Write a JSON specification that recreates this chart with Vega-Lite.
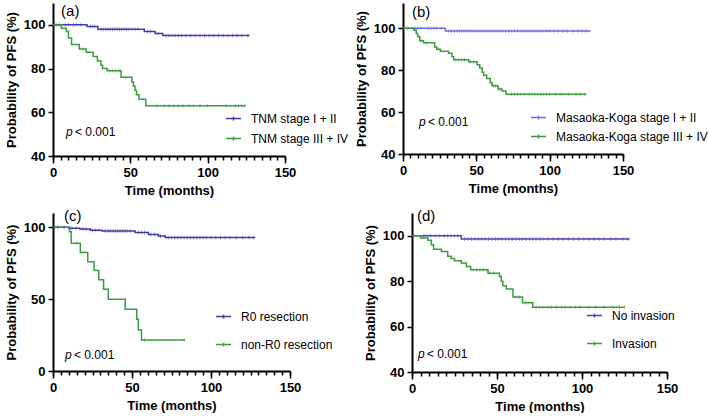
{
  "$schema": "https://vega.github.io/schema/vega-lite/v6.json",
  "padding": {"left": 5, "top": 3, "right": 0, "bottom": 0},
  "background": "white",
  "config": {
    "view": {"stroke": null},
    "font": "Liberation Sans",
    "axis": {
      "grid": false,
      "domainColor": "black",
      "domainWidth": 2,
      "tickColor": "black",
      "tickWidth": 1.5,
      "tickSize": 5,
      "labelFont": "Liberation Sans",
      "labelFontSize": 13,
      "labelFontWeight": "bold",
      "labelColor": "black",
      "titleFont": "Liberation Sans",
      "titleFontSize": 13,
      "titleFontWeight": "bold",
      "titleColor": "black"
    },
    "axisX": {"labelPadding": 3, "titlePadding": 5, "labelFlush": false},
    "axisY": {"labelPadding": 3, "titlePadding": 5},
    "legend": {
      "labelFont": "Liberation Sans",
      "labelFontSize": 12,
      "labelColor": "black",
      "symbolType": "M-1,0H1M0,-0.25V0.25",
      "symbolSize": 225,
      "symbolStrokeWidth": 1.5,
      "labelOffset": 9,
      "orient": "none"
    },
    "text": {"font": "Liberation Sans", "color": "black"}
  },
  "datasets": {
    "curves": [
      {"p":"a","s":"TNM stage I + II","t":0,"v":100},{"p":"a","s":"TNM stage I + II","t":22,"v":99.3},{"p":"a","s":"TNM stage I + II","t":29,"v":98},{"p":"a","s":"TNM stage I + II","t":59,"v":97},{"p":"a","s":"TNM stage I + II","t":66,"v":96.1},{"p":"a","s":"TNM stage I + II","t":71,"v":95.1},{"p":"a","s":"TNM stage I + II","t":127,"v":95.1},
      {"p":"a","s":"TNM stage III + IV","t":0,"v":100},{"p":"a","s":"TNM stage III + IV","t":5.4,"v":98.5},{"p":"a","s":"TNM stage III + IV","t":8.6,"v":97},{"p":"a","s":"TNM stage III + IV","t":10,"v":94},{"p":"a","s":"TNM stage III + IV","t":12,"v":91},{"p":"a","s":"TNM stage III + IV","t":17,"v":89},{"p":"a","s":"TNM stage III + IV","t":21.5,"v":87.5},{"p":"a","s":"TNM stage III + IV","t":26,"v":85.5},{"p":"a","s":"TNM stage III + IV","t":28.7,"v":83.5},{"p":"a","s":"TNM stage III + IV","t":31,"v":81.5},{"p":"a","s":"TNM stage III + IV","t":32,"v":80},{"p":"a","s":"TNM stage III + IV","t":35,"v":79},{"p":"a","s":"TNM stage III + IV","t":44,"v":76},{"p":"a","s":"TNM stage III + IV","t":51,"v":74},{"p":"a","s":"TNM stage III + IV","t":52,"v":72},{"p":"a","s":"TNM stage III + IV","t":53,"v":70},{"p":"a","s":"TNM stage III + IV","t":54,"v":68},{"p":"a","s":"TNM stage III + IV","t":55.6,"v":66},{"p":"a","s":"TNM stage III + IV","t":60,"v":63},{"p":"a","s":"TNM stage III + IV","t":124.6,"v":63},
      {"p":"b","s":"Masaoka-Koga stage I + II","t":0,"v":100},{"p":"b","s":"Masaoka-Koga stage I + II","t":28.9,"v":98.7},{"p":"b","s":"Masaoka-Koga stage I + II","t":127.7,"v":98.7},
      {"p":"b","s":"Masaoka-Koga stage III + IV","t":0,"v":100},{"p":"b","s":"Masaoka-Koga stage III + IV","t":7.3,"v":99},{"p":"b","s":"Masaoka-Koga stage III + IV","t":9,"v":97.5},{"p":"b","s":"Masaoka-Koga stage III + IV","t":10,"v":96},{"p":"b","s":"Masaoka-Koga stage III + IV","t":11.4,"v":94},{"p":"b","s":"Masaoka-Koga stage III + IV","t":14,"v":93},{"p":"b","s":"Masaoka-Koga stage III + IV","t":21.6,"v":91},{"p":"b","s":"Masaoka-Koga stage III + IV","t":23,"v":90},{"p":"b","s":"Masaoka-Koga stage III + IV","t":25.5,"v":89},{"p":"b","s":"Masaoka-Koga stage III + IV","t":31,"v":88},{"p":"b","s":"Masaoka-Koga stage III + IV","t":33.4,"v":86.5},{"p":"b","s":"Masaoka-Koga stage III + IV","t":34.5,"v":85},{"p":"b","s":"Masaoka-Koga stage III + IV","t":44.8,"v":84},{"p":"b","s":"Masaoka-Koga stage III + IV","t":50.5,"v":82.5},{"p":"b","s":"Masaoka-Koga stage III + IV","t":52.3,"v":81},{"p":"b","s":"Masaoka-Koga stage III + IV","t":54,"v":79},{"p":"b","s":"Masaoka-Koga stage III + IV","t":55,"v":77.5},{"p":"b","s":"Masaoka-Koga stage III + IV","t":57,"v":76},{"p":"b","s":"Masaoka-Koga stage III + IV","t":59.5,"v":74},{"p":"b","s":"Masaoka-Koga stage III + IV","t":60.7,"v":72.5},{"p":"b","s":"Masaoka-Koga stage III + IV","t":64.8,"v":71},{"p":"b","s":"Masaoka-Koga stage III + IV","t":67.5,"v":70},{"p":"b","s":"Masaoka-Koga stage III + IV","t":70.2,"v":68.5},{"p":"b","s":"Masaoka-Koga stage III + IV","t":125,"v":68.5},
      {"p":"c","s":"R0 resection","t":0,"v":100},{"p":"c","s":"R0 resection","t":10,"v":99.3},{"p":"c","s":"R0 resection","t":17,"v":98.8},{"p":"c","s":"R0 resection","t":23.6,"v":98},{"p":"c","s":"R0 resection","t":31,"v":97.4},{"p":"c","s":"R0 resection","t":52,"v":96.5},{"p":"c","s":"R0 resection","t":60.4,"v":95},{"p":"c","s":"R0 resection","t":66.7,"v":94},{"p":"c","s":"R0 resection","t":71,"v":93},{"p":"c","s":"R0 resection","t":128,"v":93},
      {"p":"c","s":"non-R0 resection","t":0,"v":100},{"p":"c","s":"non-R0 resection","t":10.5,"v":97},{"p":"c","s":"non-R0 resection","t":11.5,"v":89},{"p":"c","s":"non-R0 resection","t":17.3,"v":82.5},{"p":"c","s":"non-R0 resection","t":22,"v":76},{"p":"c","s":"non-R0 resection","t":26,"v":70},{"p":"c","s":"non-R0 resection","t":29,"v":63.5},{"p":"c","s":"non-R0 resection","t":32,"v":57},{"p":"c","s":"non-R0 resection","t":35,"v":50},{"p":"c","s":"non-R0 resection","t":45.7,"v":43},{"p":"c","s":"non-R0 resection","t":53,"v":36},{"p":"c","s":"non-R0 resection","t":54,"v":28.5},{"p":"c","s":"non-R0 resection","t":56,"v":21.5},{"p":"c","s":"non-R0 resection","t":83.6,"v":21.5},
      {"p":"d","s":"No invasion","t":0,"v":100},{"p":"d","s":"No invasion","t":29,"v":98.5},{"p":"d","s":"No invasion","t":128,"v":98.5},
      {"p":"d","s":"Invasion","t":0,"v":100},{"p":"d","s":"Invasion","t":5.1,"v":99},{"p":"d","s":"Invasion","t":9.4,"v":98},{"p":"d","s":"Invasion","t":11.4,"v":96},{"p":"d","s":"Invasion","t":12.7,"v":94},{"p":"d","s":"Invasion","t":17.3,"v":93},{"p":"d","s":"Invasion","t":21,"v":91},{"p":"d","s":"Invasion","t":23,"v":90},{"p":"d","s":"Invasion","t":25,"v":89},{"p":"d","s":"Invasion","t":29,"v":88},{"p":"d","s":"Invasion","t":32,"v":86.5},{"p":"d","s":"Invasion","t":34.5,"v":85},{"p":"d","s":"Invasion","t":44.7,"v":83.5},{"p":"d","s":"Invasion","t":51.5,"v":82},{"p":"d","s":"Invasion","t":52.5,"v":80},{"p":"d","s":"Invasion","t":53.5,"v":78},{"p":"d","s":"Invasion","t":55.5,"v":76.5},{"p":"d","s":"Invasion","t":59.4,"v":73},{"p":"d","s":"Invasion","t":65,"v":70.5},{"p":"d","s":"Invasion","t":71,"v":68.5},{"p":"d","s":"Invasion","t":125,"v":68.5}
    ],
    "censor": [
      {"p":"a","s":"TNM stage I + II","t":2,"v":100},{"p":"a","s":"TNM stage I + II","t":4,"v":100},{"p":"a","s":"TNM stage I + II","t":8,"v":100},{"p":"a","s":"TNM stage I + II","t":10,"v":100},{"p":"a","s":"TNM stage I + II","t":13,"v":100},{"p":"a","s":"TNM stage I + II","t":15,"v":100},{"p":"a","s":"TNM stage I + II","t":18,"v":100},
      {"p":"a","s":"TNM stage I + II","t":24,"v":99.3},{"p":"a","s":"TNM stage I + II","t":25.5,"v":99.3},{"p":"a","s":"TNM stage I + II","t":27,"v":99.3},
      {"p":"a","s":"TNM stage I + II","t":31,"v":98},{"p":"a","s":"TNM stage I + II","t":32.5,"v":98},{"p":"a","s":"TNM stage I + II","t":34,"v":98},{"p":"a","s":"TNM stage I + II","t":35.5,"v":98},{"p":"a","s":"TNM stage I + II","t":37,"v":98},{"p":"a","s":"TNM stage I + II","t":38.5,"v":98},{"p":"a","s":"TNM stage I + II","t":40,"v":98},{"p":"a","s":"TNM stage I + II","t":41.5,"v":98},{"p":"a","s":"TNM stage I + II","t":43,"v":98},{"p":"a","s":"TNM stage I + II","t":44.5,"v":98},{"p":"a","s":"TNM stage I + II","t":46,"v":98},{"p":"a","s":"TNM stage I + II","t":47.5,"v":98},{"p":"a","s":"TNM stage I + II","t":49,"v":98},{"p":"a","s":"TNM stage I + II","t":51,"v":98},{"p":"a","s":"TNM stage I + II","t":53,"v":98},{"p":"a","s":"TNM stage I + II","t":55,"v":98},
      {"p":"a","s":"TNM stage I + II","t":61,"v":97},{"p":"a","s":"TNM stage I + II","t":63,"v":97},{"p":"a","s":"TNM stage I + II","t":68,"v":96.1},
      {"p":"a","s":"TNM stage I + II","t":73,"v":95.1},{"p":"a","s":"TNM stage I + II","t":75,"v":95.1},{"p":"a","s":"TNM stage I + II","t":77,"v":95.1},{"p":"a","s":"TNM stage I + II","t":79,"v":95.1},{"p":"a","s":"TNM stage I + II","t":81,"v":95.1},{"p":"a","s":"TNM stage I + II","t":83,"v":95.1},{"p":"a","s":"TNM stage I + II","t":86,"v":95.1},{"p":"a","s":"TNM stage I + II","t":89,"v":95.1},{"p":"a","s":"TNM stage I + II","t":92,"v":95.1},{"p":"a","s":"TNM stage I + II","t":95,"v":95.1},{"p":"a","s":"TNM stage I + II","t":98,"v":95.1},{"p":"a","s":"TNM stage I + II","t":101,"v":95.1},{"p":"a","s":"TNM stage I + II","t":104,"v":95.1},{"p":"a","s":"TNM stage I + II","t":107,"v":95.1},{"p":"a","s":"TNM stage I + II","t":110,"v":95.1},{"p":"a","s":"TNM stage I + II","t":113,"v":95.1},{"p":"a","s":"TNM stage I + II","t":116,"v":95.1},{"p":"a","s":"TNM stage I + II","t":119,"v":95.1},{"p":"a","s":"TNM stage I + II","t":122,"v":95.1},{"p":"a","s":"TNM stage I + II","t":126,"v":95.1},
      {"p":"a","s":"TNM stage III + IV","t":19,"v":89},{"p":"a","s":"TNM stage III + IV","t":36.5,"v":79},{"p":"a","s":"TNM stage III + IV","t":38.5,"v":79},{"p":"a","s":"TNM stage III + IV","t":40.5,"v":79},{"p":"a","s":"TNM stage III + IV","t":42.5,"v":79},{"p":"a","s":"TNM stage III + IV","t":47,"v":76},
      {"p":"a","s":"TNM stage III + IV","t":67,"v":63},{"p":"a","s":"TNM stage III + IV","t":72,"v":63},{"p":"a","s":"TNM stage III + IV","t":75,"v":63},{"p":"a","s":"TNM stage III + IV","t":78,"v":63},{"p":"a","s":"TNM stage III + IV","t":81,"v":63},{"p":"a","s":"TNM stage III + IV","t":84,"v":63},{"p":"a","s":"TNM stage III + IV","t":88,"v":63},{"p":"a","s":"TNM stage III + IV","t":91,"v":63},{"p":"a","s":"TNM stage III + IV","t":95,"v":63},{"p":"a","s":"TNM stage III + IV","t":100,"v":63},{"p":"a","s":"TNM stage III + IV","t":112,"v":63},{"p":"a","s":"TNM stage III + IV","t":118,"v":63},{"p":"a","s":"TNM stage III + IV","t":120,"v":63},{"p":"a","s":"TNM stage III + IV","t":122,"v":63},{"p":"a","s":"TNM stage III + IV","t":124,"v":63},
      {"p":"b","s":"Masaoka-Koga stage I + II","t":3,"v":100},{"p":"b","s":"Masaoka-Koga stage I + II","t":8,"v":100},{"p":"b","s":"Masaoka-Koga stage I + II","t":10,"v":100},{"p":"b","s":"Masaoka-Koga stage I + II","t":12,"v":100},{"p":"b","s":"Masaoka-Koga stage I + II","t":17,"v":100},{"p":"b","s":"Masaoka-Koga stage I + II","t":19,"v":100},{"p":"b","s":"Masaoka-Koga stage I + II","t":21,"v":100},{"p":"b","s":"Masaoka-Koga stage I + II","t":23,"v":100},{"p":"b","s":"Masaoka-Koga stage I + II","t":26,"v":100},
      {"p":"b","s":"Masaoka-Koga stage I + II","t":31,"v":98.7},{"p":"b","s":"Masaoka-Koga stage I + II","t":33,"v":98.7},{"p":"b","s":"Masaoka-Koga stage I + II","t":35,"v":98.7},{"p":"b","s":"Masaoka-Koga stage I + II","t":37,"v":98.7},{"p":"b","s":"Masaoka-Koga stage I + II","t":38.5,"v":98.7},{"p":"b","s":"Masaoka-Koga stage I + II","t":40,"v":98.7},{"p":"b","s":"Masaoka-Koga stage I + II","t":41.5,"v":98.7},{"p":"b","s":"Masaoka-Koga stage I + II","t":43,"v":98.7},{"p":"b","s":"Masaoka-Koga stage I + II","t":44.5,"v":98.7},{"p":"b","s":"Masaoka-Koga stage I + II","t":46,"v":98.7},{"p":"b","s":"Masaoka-Koga stage I + II","t":48,"v":98.7},{"p":"b","s":"Masaoka-Koga stage I + II","t":50,"v":98.7},{"p":"b","s":"Masaoka-Koga stage I + II","t":52,"v":98.7},{"p":"b","s":"Masaoka-Koga stage I + II","t":54,"v":98.7},{"p":"b","s":"Masaoka-Koga stage I + II","t":56,"v":98.7},{"p":"b","s":"Masaoka-Koga stage I + II","t":58,"v":98.7},{"p":"b","s":"Masaoka-Koga stage I + II","t":60,"v":98.7},{"p":"b","s":"Masaoka-Koga stage I + II","t":62,"v":98.7},{"p":"b","s":"Masaoka-Koga stage I + II","t":64,"v":98.7},{"p":"b","s":"Masaoka-Koga stage I + II","t":66,"v":98.7},{"p":"b","s":"Masaoka-Koga stage I + II","t":68,"v":98.7},{"p":"b","s":"Masaoka-Koga stage I + II","t":70,"v":98.7},{"p":"b","s":"Masaoka-Koga stage I + II","t":72,"v":98.7},{"p":"b","s":"Masaoka-Koga stage I + II","t":74,"v":98.7},{"p":"b","s":"Masaoka-Koga stage I + II","t":76,"v":98.7},{"p":"b","s":"Masaoka-Koga stage I + II","t":78,"v":98.7},{"p":"b","s":"Masaoka-Koga stage I + II","t":80,"v":98.7},{"p":"b","s":"Masaoka-Koga stage I + II","t":82,"v":98.7},{"p":"b","s":"Masaoka-Koga stage I + II","t":84,"v":98.7},{"p":"b","s":"Masaoka-Koga stage I + II","t":86,"v":98.7},{"p":"b","s":"Masaoka-Koga stage I + II","t":88,"v":98.7},{"p":"b","s":"Masaoka-Koga stage I + II","t":90,"v":98.7},{"p":"b","s":"Masaoka-Koga stage I + II","t":92,"v":98.7},{"p":"b","s":"Masaoka-Koga stage I + II","t":94,"v":98.7},{"p":"b","s":"Masaoka-Koga stage I + II","t":96,"v":98.7},{"p":"b","s":"Masaoka-Koga stage I + II","t":98,"v":98.7},{"p":"b","s":"Masaoka-Koga stage I + II","t":100,"v":98.7},{"p":"b","s":"Masaoka-Koga stage I + II","t":103,"v":98.7},{"p":"b","s":"Masaoka-Koga stage I + II","t":106,"v":98.7},{"p":"b","s":"Masaoka-Koga stage I + II","t":109,"v":98.7},{"p":"b","s":"Masaoka-Koga stage I + II","t":112,"v":98.7},{"p":"b","s":"Masaoka-Koga stage I + II","t":116,"v":98.7},{"p":"b","s":"Masaoka-Koga stage I + II","t":119,"v":98.7},{"p":"b","s":"Masaoka-Koga stage I + II","t":122,"v":98.7},{"p":"b","s":"Masaoka-Koga stage I + II","t":125,"v":98.7},
      {"p":"b","s":"Masaoka-Koga stage III + IV","t":12.5,"v":94},{"p":"b","s":"Masaoka-Koga stage III + IV","t":16,"v":93},{"p":"b","s":"Masaoka-Koga stage III + IV","t":24,"v":90},{"p":"b","s":"Masaoka-Koga stage III + IV","t":36,"v":85},{"p":"b","s":"Masaoka-Koga stage III + IV","t":38,"v":85},{"p":"b","s":"Masaoka-Koga stage III + IV","t":40,"v":85},{"p":"b","s":"Masaoka-Koga stage III + IV","t":42,"v":85},{"p":"b","s":"Masaoka-Koga stage III + IV","t":46,"v":84},{"p":"b","s":"Masaoka-Koga stage III + IV","t":48,"v":84},{"p":"b","s":"Masaoka-Koga stage III + IV","t":61.5,"v":72.5},{"p":"b","s":"Masaoka-Koga stage III + IV","t":63,"v":72.5},{"p":"b","s":"Masaoka-Koga stage III + IV","t":66,"v":71},
      {"p":"b","s":"Masaoka-Koga stage III + IV","t":74,"v":68.5},{"p":"b","s":"Masaoka-Koga stage III + IV","t":76,"v":68.5},{"p":"b","s":"Masaoka-Koga stage III + IV","t":78,"v":68.5},{"p":"b","s":"Masaoka-Koga stage III + IV","t":80,"v":68.5},{"p":"b","s":"Masaoka-Koga stage III + IV","t":83,"v":68.5},{"p":"b","s":"Masaoka-Koga stage III + IV","t":86,"v":68.5},{"p":"b","s":"Masaoka-Koga stage III + IV","t":88,"v":68.5},{"p":"b","s":"Masaoka-Koga stage III + IV","t":90,"v":68.5},{"p":"b","s":"Masaoka-Koga stage III + IV","t":92,"v":68.5},{"p":"b","s":"Masaoka-Koga stage III + IV","t":94,"v":68.5},{"p":"b","s":"Masaoka-Koga stage III + IV","t":96,"v":68.5},{"p":"b","s":"Masaoka-Koga stage III + IV","t":98,"v":68.5},{"p":"b","s":"Masaoka-Koga stage III + IV","t":100,"v":68.5},{"p":"b","s":"Masaoka-Koga stage III + IV","t":104,"v":68.5},{"p":"b","s":"Masaoka-Koga stage III + IV","t":108,"v":68.5},{"p":"b","s":"Masaoka-Koga stage III + IV","t":113,"v":68.5},{"p":"b","s":"Masaoka-Koga stage III + IV","t":118,"v":68.5},{"p":"b","s":"Masaoka-Koga stage III + IV","t":121,"v":68.5},{"p":"b","s":"Masaoka-Koga stage III + IV","t":124,"v":68.5},
      {"p":"c","s":"R0 resection","t":1,"v":100},{"p":"c","s":"R0 resection","t":3,"v":100},{"p":"c","s":"R0 resection","t":7,"v":100},{"p":"c","s":"R0 resection","t":12,"v":99.3},{"p":"c","s":"R0 resection","t":14.5,"v":99.3},{"p":"c","s":"R0 resection","t":19,"v":98.8},{"p":"c","s":"R0 resection","t":21,"v":98.8},{"p":"c","s":"R0 resection","t":25,"v":98},{"p":"c","s":"R0 resection","t":27,"v":98},{"p":"c","s":"R0 resection","t":29,"v":98},
      {"p":"c","s":"R0 resection","t":33,"v":97.4},{"p":"c","s":"R0 resection","t":35,"v":97.4},{"p":"c","s":"R0 resection","t":36.5,"v":97.4},{"p":"c","s":"R0 resection","t":38,"v":97.4},{"p":"c","s":"R0 resection","t":39.5,"v":97.4},{"p":"c","s":"R0 resection","t":41,"v":97.4},{"p":"c","s":"R0 resection","t":42.5,"v":97.4},{"p":"c","s":"R0 resection","t":44,"v":97.4},{"p":"c","s":"R0 resection","t":45.5,"v":97.4},{"p":"c","s":"R0 resection","t":47,"v":97.4},{"p":"c","s":"R0 resection","t":49,"v":97.4},
      {"p":"c","s":"R0 resection","t":54,"v":96.5},{"p":"c","s":"R0 resection","t":56,"v":96.5},{"p":"c","s":"R0 resection","t":58,"v":96.5},{"p":"c","s":"R0 resection","t":62,"v":95},{"p":"c","s":"R0 resection","t":64.5,"v":95},{"p":"c","s":"R0 resection","t":68,"v":94},
      {"p":"c","s":"R0 resection","t":73,"v":93},{"p":"c","s":"R0 resection","t":75,"v":93},{"p":"c","s":"R0 resection","t":77,"v":93},{"p":"c","s":"R0 resection","t":79,"v":93},{"p":"c","s":"R0 resection","t":81,"v":93},{"p":"c","s":"R0 resection","t":83,"v":93},{"p":"c","s":"R0 resection","t":85,"v":93},{"p":"c","s":"R0 resection","t":87,"v":93},{"p":"c","s":"R0 resection","t":89,"v":93},{"p":"c","s":"R0 resection","t":91,"v":93},{"p":"c","s":"R0 resection","t":93,"v":93},{"p":"c","s":"R0 resection","t":95,"v":93},{"p":"c","s":"R0 resection","t":97,"v":93},{"p":"c","s":"R0 resection","t":100,"v":93},{"p":"c","s":"R0 resection","t":103,"v":93},{"p":"c","s":"R0 resection","t":106,"v":93},{"p":"c","s":"R0 resection","t":109,"v":93},{"p":"c","s":"R0 resection","t":112,"v":93},{"p":"c","s":"R0 resection","t":116,"v":93},{"p":"c","s":"R0 resection","t":120,"v":93},{"p":"c","s":"R0 resection","t":124,"v":93},{"p":"c","s":"R0 resection","t":127,"v":93},
      {"p":"c","s":"non-R0 resection","t":15,"v":89},{"p":"c","s":"non-R0 resection","t":58,"v":21.5},{"p":"c","s":"non-R0 resection","t":83,"v":21.5},
      {"p":"d","s":"No invasion","t":1,"v":100},{"p":"d","s":"No invasion","t":7,"v":100},{"p":"d","s":"No invasion","t":9,"v":100},{"p":"d","s":"No invasion","t":11,"v":100},{"p":"d","s":"No invasion","t":14,"v":100},{"p":"d","s":"No invasion","t":16,"v":100},{"p":"d","s":"No invasion","t":19,"v":100},{"p":"d","s":"No invasion","t":21,"v":100},{"p":"d","s":"No invasion","t":23,"v":100},{"p":"d","s":"No invasion","t":25,"v":100},{"p":"d","s":"No invasion","t":27,"v":100},
      {"p":"d","s":"No invasion","t":31,"v":98.5},{"p":"d","s":"No invasion","t":33,"v":98.5},{"p":"d","s":"No invasion","t":35,"v":98.5},{"p":"d","s":"No invasion","t":37,"v":98.5},{"p":"d","s":"No invasion","t":39,"v":98.5},{"p":"d","s":"No invasion","t":41,"v":98.5},{"p":"d","s":"No invasion","t":43,"v":98.5},{"p":"d","s":"No invasion","t":45,"v":98.5},{"p":"d","s":"No invasion","t":47,"v":98.5},{"p":"d","s":"No invasion","t":49,"v":98.5},{"p":"d","s":"No invasion","t":51,"v":98.5},{"p":"d","s":"No invasion","t":53,"v":98.5},{"p":"d","s":"No invasion","t":55,"v":98.5},{"p":"d","s":"No invasion","t":57,"v":98.5},{"p":"d","s":"No invasion","t":59,"v":98.5},{"p":"d","s":"No invasion","t":61,"v":98.5},{"p":"d","s":"No invasion","t":63,"v":98.5},{"p":"d","s":"No invasion","t":65,"v":98.5},{"p":"d","s":"No invasion","t":67,"v":98.5},{"p":"d","s":"No invasion","t":69,"v":98.5},{"p":"d","s":"No invasion","t":71,"v":98.5},{"p":"d","s":"No invasion","t":73,"v":98.5},{"p":"d","s":"No invasion","t":75,"v":98.5},{"p":"d","s":"No invasion","t":77,"v":98.5},{"p":"d","s":"No invasion","t":80,"v":98.5},{"p":"d","s":"No invasion","t":83,"v":98.5},{"p":"d","s":"No invasion","t":86,"v":98.5},{"p":"d","s":"No invasion","t":89,"v":98.5},{"p":"d","s":"No invasion","t":92,"v":98.5},{"p":"d","s":"No invasion","t":95,"v":98.5},{"p":"d","s":"No invasion","t":98,"v":98.5},{"p":"d","s":"No invasion","t":101,"v":98.5},{"p":"d","s":"No invasion","t":104,"v":98.5},{"p":"d","s":"No invasion","t":107,"v":98.5},{"p":"d","s":"No invasion","t":110,"v":98.5},{"p":"d","s":"No invasion","t":113,"v":98.5},{"p":"d","s":"No invasion","t":117,"v":98.5},{"p":"d","s":"No invasion","t":120,"v":98.5},{"p":"d","s":"No invasion","t":124,"v":98.5},{"p":"d","s":"No invasion","t":127,"v":98.5},
      {"p":"d","s":"Invasion","t":36,"v":85},{"p":"d","s":"Invasion","t":38,"v":85},{"p":"d","s":"Invasion","t":40,"v":85},{"p":"d","s":"Invasion","t":42,"v":85},{"p":"d","s":"Invasion","t":44,"v":85},{"p":"d","s":"Invasion","t":46,"v":83.5},{"p":"d","s":"Invasion","t":48,"v":83.5},{"p":"d","s":"Invasion","t":61,"v":73},{"p":"d","s":"Invasion","t":63,"v":73},{"p":"d","s":"Invasion","t":67,"v":70.5},
      {"p":"d","s":"Invasion","t":73,"v":68.5},{"p":"d","s":"Invasion","t":75,"v":68.5},{"p":"d","s":"Invasion","t":77,"v":68.5},{"p":"d","s":"Invasion","t":80,"v":68.5},{"p":"d","s":"Invasion","t":82,"v":68.5},{"p":"d","s":"Invasion","t":85,"v":68.5},{"p":"d","s":"Invasion","t":88,"v":68.5},{"p":"d","s":"Invasion","t":90,"v":68.5},{"p":"d","s":"Invasion","t":93,"v":68.5},{"p":"d","s":"Invasion","t":96,"v":68.5},{"p":"d","s":"Invasion","t":99,"v":68.5},{"p":"d","s":"Invasion","t":104,"v":68.5},{"p":"d","s":"Invasion","t":108,"v":68.5},{"p":"d","s":"Invasion","t":113,"v":68.5},{"p":"d","s":"Invasion","t":118,"v":68.5},{"p":"d","s":"Invasion","t":122,"v":68.5},{"p":"d","s":"Invasion","t":125,"v":68.5}
    ]
  },
  "resolve": {"scale": {"color": "independent"}, "legend": {"color": "independent"}},
  "spacing": 11,
  "vconcat": [
    {
      "resolve": {"scale": {"color": "independent"}, "legend": {"color": "independent"}},
      "spacing": 6,
      "hconcat": [
        {
          "width": 232, "height": 153,
          "resolve": {"axis": {"x": "independent"}},
          "layer": [
            {
              "data": {"name": "curves"},
              "transform": [{"filter": "datum.p == 'a'"}],
              "mark": {"type": "line", "interpolate": "step-after", "strokeWidth": 1.5},
              "encoding": {
                "x": {"field": "t", "type": "quantitative", "scale": {"domain": [0, 150], "nice": false},
                      "axis": {"orient": "bottom", "title": "Time (months)", "values": [0, 50, 100, 150], "tickSize": 7}},
                "y": {"field": "v", "type": "quantitative", "scale": {"domain": [40, 110], "nice": false},
                      "axis": {"title": "Probability of PFS (%)", "values": [40, 60, 80, 100]}},
                "color": {"field": "s", "type": "nominal",
                          "scale": {"domain": ["TNM stage I + II", "TNM stage III + IV"], "range": ["#3d3daf", "#3c9b3c"]},
                          "legend": {"title": null, "orient": "none", "legendX": 172, "legendY": 107, "rowPadding": 5}}
              }
            },
            {
              "data": {"name": "censor"},
              "transform": [{"filter": "datum.p == 'a'"}],
              "mark": {"type": "tick", "orient": "vertical", "size": 4, "thickness": 1, "opacity": 0.5},
              "encoding": {
                "x": {"field": "t", "type": "quantitative",
                      "axis": {"orient": "bottom", "title": null, "labels": false, "domain": false, "tickSize": 4, "values": [0,5,10,15,20,25,30,35,40,45,50,55,60,65,70,75,80,85,90,95,100,105,110,115,120,125,130,135,140,145,150]}},
                "y": {"field": "v", "type": "quantitative"},
                "color": {"field": "s", "type": "nominal", "legend": null}
              }
            },
            {
              "data": {"values": [{}]},
              "mark": {"type": "text", "fontSize": 15, "align": "left", "baseline": "middle"},
              "encoding": {"x": {"datum": 5.2, "axis": null}, "y": {"datum": 106.4}, "text": {"value": "(a)"}}
            },
            {
              "data": {"values": [{}]},
              "mark": {"type": "text", "fontSize": 12, "fontStyle": "italic", "align": "left", "baseline": "middle"},
              "encoding": {"x": {"datum": 8.4, "axis": null}, "y": {"datum": 50.9}, "text": {"value": "p"}}
            },
            {
              "data": {"values": [{}]},
              "mark": {"type": "text", "fontSize": 12, "align": "left", "baseline": "middle", "dx": 9},
              "encoding": {"x": {"datum": 8.4, "axis": null}, "y": {"datum": 50.9}, "text": {"value": "< 0.001"}}
            }
          ]
        },
        {
          "width": 220, "height": 151,
          "resolve": {"axis": {"x": "independent"}},
          "layer": [
            {
              "data": {"name": "curves"},
              "transform": [{"filter": "datum.p == 'b'"}],
              "mark": {"type": "line", "interpolate": "step-after", "strokeWidth": 1.5},
              "encoding": {
                "x": {"field": "t", "type": "quantitative", "scale": {"domain": [0, 150], "nice": false},
                      "axis": {"orient": "bottom", "title": "Time (months)", "values": [0, 50, 100, 150], "tickSize": 7}},
                "y": {"field": "v", "type": "quantitative", "scale": {"domain": [40, 112], "nice": false},
                      "axis": {"title": "Probability of PFS (%)", "values": [40, 60, 80, 100]}},
                "color": {"field": "s", "type": "nominal",
                          "scale": {"domain": ["Masaoka-Koga stage I + II", "Masaoka-Koga stage III + IV"], "range": ["#6a6ade", "#3c9b3c"]},
                          "legend": {"title": null, "orient": "none", "legendX": 127, "legendY": 106, "rowPadding": 4}}
              }
            },
            {
              "data": {"name": "censor"},
              "transform": [{"filter": "datum.p == 'b'"}],
              "mark": {"type": "tick", "orient": "vertical", "size": 4, "thickness": 1, "opacity": 0.5},
              "encoding": {
                "x": {"field": "t", "type": "quantitative",
                      "axis": {"orient": "bottom", "title": null, "labels": false, "domain": false, "tickSize": 4, "values": [0,5,10,15,20,25,30,35,40,45,50,55,60,65,70,75,80,85,90,95,100,105,110,115,120,125,130,135,140,145,150]}},
                "y": {"field": "v", "type": "quantitative"},
                "color": {"field": "s", "type": "nominal", "legend": null}
              }
            },
            {
              "data": {"values": [{}]},
              "mark": {"type": "text", "fontSize": 15, "align": "left", "baseline": "middle"},
              "encoding": {"x": {"datum": 6.1, "axis": null}, "y": {"datum": 107.5}, "text": {"value": "(b)"}}
            },
            {
              "data": {"values": [{}]},
              "mark": {"type": "text", "fontSize": 12, "fontStyle": "italic", "align": "left", "baseline": "middle"},
              "encoding": {"x": {"datum": 10.9, "axis": null}, "y": {"datum": 55.3}, "text": {"value": "p"}}
            },
            {
              "data": {"values": [{}]},
              "mark": {"type": "text", "fontSize": 12, "align": "left", "baseline": "middle", "dx": 9},
              "encoding": {"x": {"datum": 10.9, "axis": null}, "y": {"datum": 55.3}, "text": {"value": "< 0.001"}}
            }
          ]
        }
      ]
    },
    {
      "resolve": {"scale": {"color": "independent"}, "legend": {"color": "independent"}},
      "spacing": 31,
      "hconcat": [
        {
          "width": 237, "height": 158,
          "resolve": {"axis": {"x": "independent"}},
          "layer": [
            {
              "data": {"name": "curves"},
              "transform": [{"filter": "datum.p == 'c'"}],
              "mark": {"type": "line", "interpolate": "step-after", "strokeWidth": 1.5},
              "encoding": {
                "x": {"field": "t", "type": "quantitative", "scale": {"domain": [0, 150], "nice": false},
                      "axis": {"orient": "bottom", "title": "Time (months)", "values": [0, 50, 100, 150], "tickSize": 7}},
                "y": {"field": "v", "type": "quantitative", "scale": {"domain": [0, 110], "nice": false},
                      "axis": {"title": "Probability of PFS (%)", "values": [0, 50, 100]}},
                "color": {"field": "s", "type": "nominal",
                          "scale": {"domain": ["R0 resection", "non-R0 resection"], "range": ["#3b3ba3", "#3c9b3c"]},
                          "legend": {"title": null, "orient": "none", "legendX": 162, "legendY": 95, "rowPadding": 13}}
              }
            },
            {
              "data": {"name": "censor"},
              "transform": [{"filter": "datum.p == 'c'"}],
              "mark": {"type": "tick", "orient": "vertical", "size": 4, "thickness": 1, "opacity": 0.5},
              "encoding": {
                "x": {"field": "t", "type": "quantitative",
                      "axis": {"orient": "bottom", "title": null, "labels": false, "domain": false, "tickSize": 4, "values": [0,5,10,15,20,25,30,35,40,45,50,55,60,65,70,75,80,85,90,95,100,105,110,115,120,125,130,135,140,145,150]}},
                "y": {"field": "v", "type": "quantitative"},
                "color": {"field": "s", "type": "nominal", "legend": null}
              }
            },
            {
              "data": {"values": [{}]},
              "mark": {"type": "text", "fontSize": 15, "align": "left", "baseline": "middle"},
              "encoding": {"x": {"datum": 7, "axis": null}, "y": {"datum": 108}, "text": {"value": "(c)"}}
            },
            {
              "data": {"values": [{}]},
              "mark": {"type": "text", "fontSize": 12, "fontStyle": "italic", "align": "left", "baseline": "middle"},
              "encoding": {"x": {"datum": 7.6, "axis": null}, "y": {"datum": 11.1}, "text": {"value": "p"}}
            },
            {
              "data": {"values": [{}]},
              "mark": {"type": "text", "fontSize": 12, "align": "left", "baseline": "middle", "dx": 9},
              "encoding": {"x": {"datum": 7.6, "axis": null}, "y": {"datum": 11.1}, "text": {"value": "< 0.001"}}
            }
          ]
        },
        {
          "width": 255, "height": 159,
          "resolve": {"axis": {"x": "independent"}},
          "layer": [
            {
              "data": {"name": "curves"},
              "transform": [{"filter": "datum.p == 'd'"}],
              "mark": {"type": "line", "interpolate": "step-after", "strokeWidth": 1.5},
              "encoding": {
                "x": {"field": "t", "type": "quantitative", "scale": {"domain": [0, 150], "nice": false},
                      "axis": {"orient": "bottom", "title": "Time (months)", "values": [0, 50, 100, 150], "tickSize": 7}},
                "y": {"field": "v", "type": "quantitative", "scale": {"domain": [40, 110], "nice": false},
                      "axis": {"title": "Probability of PFS (%)", "values": [40, 60, 80, 100]}},
                "color": {"field": "s", "type": "nominal",
                          "scale": {"domain": ["No invasion", "Invasion"], "range": ["#4444b8", "#3c9b3c"]},
                          "legend": {"title": null, "orient": "none", "legendX": 174, "legendY": 94, "rowPadding": 13}}
              }
            },
            {
              "data": {"name": "censor"},
              "transform": [{"filter": "datum.p == 'd'"}],
              "mark": {"type": "tick", "orient": "vertical", "size": 4, "thickness": 1, "opacity": 0.5},
              "encoding": {
                "x": {"field": "t", "type": "quantitative",
                      "axis": {"orient": "bottom", "title": null, "labels": false, "domain": false, "tickSize": 4, "values": [0,5,10,15,20,25,30,35,40,45,50,55,60,65,70,75,80,85,90,95,100,105,110,115,120,125,130,135,140,145,150]}},
                "y": {"field": "v", "type": "quantitative"},
                "color": {"field": "s", "type": "nominal", "legend": null}
              }
            },
            {
              "data": {"values": [{}]},
              "mark": {"type": "text", "fontSize": 15, "align": "left", "baseline": "middle"},
              "encoding": {"x": {"datum": 2.9, "axis": null}, "y": {"datum": 108.7}, "text": {"value": "(d)"}}
            },
            {
              "data": {"values": [{}]},
              "mark": {"type": "text", "fontSize": 12, "fontStyle": "italic", "align": "left", "baseline": "middle"},
              "encoding": {"x": {"datum": 3.5, "axis": null}, "y": {"datum": 47.9}, "text": {"value": "p"}}
            },
            {
              "data": {"values": [{}]},
              "mark": {"type": "text", "fontSize": 12, "align": "left", "baseline": "middle", "dx": 9},
              "encoding": {"x": {"datum": 3.5, "axis": null}, "y": {"datum": 47.9}, "text": {"value": "< 0.001"}}
            }
          ]
        }
      ]
    }
  ]
}
